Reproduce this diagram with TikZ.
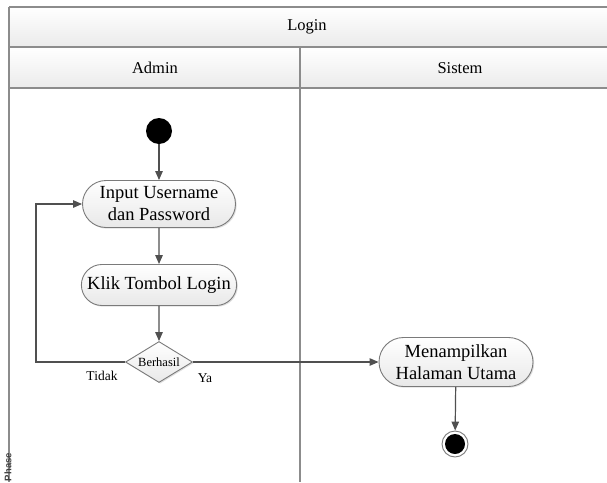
\documentclass[tikz,border=0pt]{standalone}
\usepackage{fontspec}
\setmainfont{Liberation Serif}
\setsansfont{Liberation Sans}
\usetikzlibrary{arrows.meta,shapes.geometric,shapes.misc,shadows}
\definecolor{frameline}{HTML}{8C8C8C}
\definecolor{flowline}{HTML}{505050}
\definecolor{nodeedge}{HTML}{7A7A7A}
\tikzset{
  frame/.style={draw=frameline, line width=1.5pt},
  headbar/.style={top color=white, bottom color=black!8, draw=none},
  action/.style={rounded rectangle, draw=nodeedge, line width=0.9pt,
    top color=white, bottom color=black!9, font=\fontsize{18.5}{22}\selectfont,
    align=center, inner xsep=4pt, inner ysep=3pt,
    drop shadow={shadow xshift=1.2pt, shadow yshift=-1.2pt, opacity=0.25}},
  decision/.style={diamond, draw=nodeedge, line width=0.9pt, aspect=1.6,
    top color=white, bottom color=black!9, inner sep=1pt,
    font=\fontsize{12.5}{13}\selectfont,
    drop shadow={shadow xshift=1.2pt, shadow yshift=-1.2pt, opacity=0.25}},
  flow/.style={draw=flowline, line width=1.2pt,
    -{Triangle[length=9pt,width=7.5pt]}},
  guard/.style={font=\fontsize{13.5}{14}\selectfont},
  lanetitle/.style={font=\fontsize{16.5}{18}\selectfont}
}
\begin{document}
\begin{tikzpicture}[x=1pt,y=-1pt]
  \useasboundingbox (0,0) rectangle (607,482);
  \fill[white] (0,0) rectangle (607,482);

  % pool and lane headers
  \shade[headbar] (9,7) rectangle (607,47);
  \shade[headbar] (9,47) rectangle (607,88);
  \draw[frame] (9,7) -- (607,7);
  \draw[frame] (9,47) -- (607,47);
  \draw[frame] (9,88) -- (607,88);
  \draw[frame, line width=2pt] (9,7) -- (9,482);
  \draw[frame] (300,47) -- (300,482);
  \node[lanetitle] (pool) at (307,27) {Login};
  \node[lanetitle] (laneA) at (155,68) {Admin};
  \node[lanetitle] (laneS) at (460,68) {Sistem};
  \node[rotate=90, font=\sffamily\bfseries\fontsize{9.5}{10}\selectfont, text=black!75]
    (phase) at (8,467) {Phase};

  % activity flow
  \node[circle, fill=black, minimum size=26pt, inner sep=0pt] (start) at (159,131) {};
  \node[action, minimum width=161pt, minimum height=47pt] (input) at (159,204)
    {Input Username\\dan Password};
  \node[action, minimum width=153pt, minimum height=41pt] (klik) at (159,285)
    {Klik Tombol Login};
  \node[decision, minimum width=67pt, minimum height=41pt] (cek) at (159,362) {Berhasil};
  \node[action, minimum width=162pt, minimum height=49pt] (tampil) at (456,362)
    {Menampilkan\\Halaman Utama};
  \node[circle, draw=nodeedge, fill=white, line width=0.9pt, minimum size=26pt,
    inner sep=0pt] (end) at (455,444) {};
  \node[circle, fill=black, minimum size=20pt, inner sep=0pt] (endcore) at (end) {};

  \coordinate (loopB) at (36,362);
  \coordinate (loopT) at (36,204);

  \draw[flow] (start) -- (input);
  \draw[flow] (input) -- (klik);
  \draw[flow] (klik) -- (cek);
  \draw[flow] (cek.east) -- (tampil.west);
  \draw[flow] (cek.west) -- (loopB) -- (loopT) -- (input.west);
  \draw[flow] (tampil) -- (end);

  \node[guard] (tidak) at (102,376) {Tidak};
  \node[guard] (ya) at (205,378) {Ya};
\end{tikzpicture}
\end{document}
